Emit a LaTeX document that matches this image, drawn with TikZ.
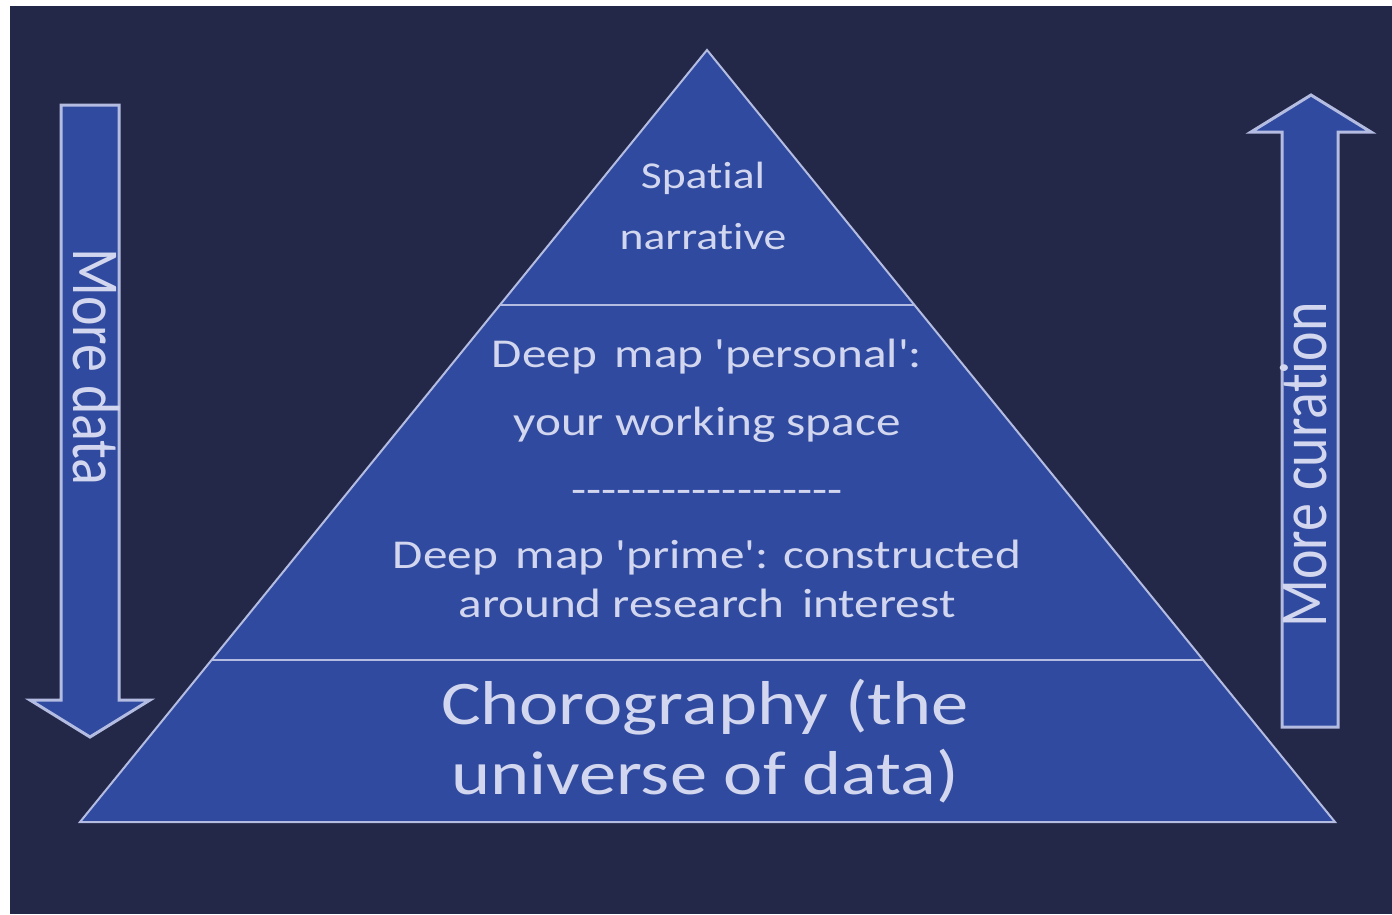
\documentclass[tikz,border=0pt]{standalone}
\usepackage{fontspec}
\setmainfont[FakeStretch=1.2,Ligatures={CommonOff,TeXOff}]{Carlito}
\newfontfamily\upfont[Ligatures=CommonOff]{Carlito}
\usetikzlibrary{calc}
\definecolor{bgnavy}{HTML}{232848}
\definecolor{pyrblue}{HTML}{2F4A9F}
\definecolor{edgelav}{HTML}{B4BCE2}
\definecolor{txtlav}{HTML}{D2D6EE}
\newcommand\dashline{\foreach\k in {1,...,18}{-\kern0pt}}
\begin{document}
\begin{tikzpicture}[x=1pt,y=-1pt,
  line/.style={text=txtlav,inner sep=0pt,anchor=base},
  sidetext/.style={text=txtlav,inner sep=0pt,anchor=base,font=\upfont\fontsize{56}{60}\selectfont},
  blockarrow/.style={fill=pyrblue,draw=edgelav,line width=3pt,line join=miter}]
\pgfmathsetmacro{\cutA}{255/772}  %first layer line
\pgfmathsetmacro{\cutB}{610/772}  %second layer line
%background
\fill[white](0,0) rectangle (1392,914);
\fill[bgnavy](10,6) rectangle (1392,914);
%pyramid
\coordinate(apex) at (707,50);
\coordinate(baseL) at (80,822);
\coordinate(baseR) at (1335,822);
\filldraw[fill=pyrblue,draw=edgelav,line width=2pt](apex)--(baseR)--(baseL)--cycle;
\draw[edgelav,line width=2pt]($(apex)!\cutA!(baseL)$)coordinate(upL)--($(apex)!\cutA!(baseR)$)coordinate(upR);
\draw[edgelav,line width=2pt]($(apex)!\cutB!(baseL)$)coordinate(lowL)--($(apex)!\cutB!(baseR)$)coordinate(lowR);
%side arrows
\draw[blockarrow](61,105)--(119,105)--(119,700)--(150,700)--(90,737)--(30,700)--(61,700)--cycle;
\draw[blockarrow](1282,727)--(1338,727)--(1338,132)--(1371,132)--(1311,95)--(1251,132)--(1282,132)--cycle;
\node[sidetext,rotate=-90](moredata) at (73,367) {\scalebox{1}[1.2]{More data}};
\node[sidetext,rotate=90](morecur) at (1326,465) {\scalebox{1}[1.2]{More curation}};
%top layer
\begin{scope}[font=\fontsize{38}{40}\selectfont]
\node[line](spatial) at (703,188) {Spatial};
\node[line](narrative) at (703,249) {narrative};
\end{scope}
%middle layer
\begin{scope}[font=\fontsize{41}{44}\selectfont]
\node[line](personal) at (707,367) {Deep\, map 'personal':};
\node[line](working) at (707,435) {your working space};
\node[line](dashes) at (707,503) {\dashline};
\node[line](prime) at (707,568) {Deep\, map 'prime': constructed};
\node[line](research) at (707,617) {around research\, interest};
\end{scope}
%bottom layer
\begin{scope}[font=\fontsize{62}{64}\selectfont]
\node[line](choro) at (705,724) {Chorography (the};
\node[line](universe) at (705,794) {universe of data)};
\end{scope}
\end{tikzpicture}
\end{document}
